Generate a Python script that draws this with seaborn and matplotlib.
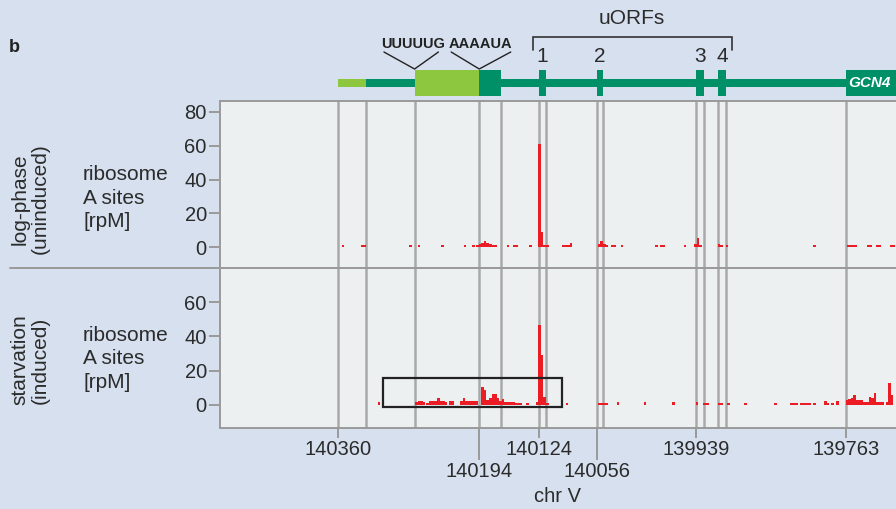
import numpy as np
import pandas as pd
import matplotlib
matplotlib.use("Agg")
import matplotlib.pyplot as plt
from matplotlib.patches import Rectangle
from matplotlib.lines import Line2D
import seaborn as sns

# Ribosome A-site density (rpM) over the GCN4 5' leader, chr V coordinates (minus strand)
log_pos = [140354, 140332, 140329, 140275, 140265, 140237, 140211, 140201,
           140196, 140193, 140190, 140187, 140184, 140181, 140178, 140175,
           140160, 140153, 140150, 140134,
           140123, 140120, 140117, 140114,
           140095, 140092, 140089, 140086,
           140053, 140050, 140047, 140044, 140038, 140035, 140026,
           139986, 139980, 139977, 139952,
           139940, 139937, 139934, 139912, 139909, 139903,
           139800, 139760, 139757, 139754, 139751,
           139737, 139734, 139726, 139723, 139710, 139707]
log_rpm = [1.5, 1.5, 1.5, 1.5, 1.5, 1.5, 1.5, 1.5,
           1.5, 2.0, 2.5, 3.5, 2.5, 2.0, 1.5, 1.5,
           1.5, 1.5, 1.5, 1.5,
           61.0, 9.0, 1.5, 1.5,
           1.5, 1.0, 1.5, 2.5,
           2.0, 3.5, 2.0, 1.5, 1.5, 1.5, 1.5,
           1.5, 1.5, 1.5, 1.5,
           2.0, 5.3, 1.5, 1.8, 1.5, 1.5,
           1.5, 1.5, 1.5, 1.5, 1.5,
           1.5, 1.5, 1.5, 1.5, 1.5, 1.5]

starv_pos = [140312, 140268, 140265, 140262, 140259, 140255, 140251, 140248,
             140245, 140242, 140239, 140236, 140233, 140228, 140225,
             140215, 140212, 140209, 140206, 140203, 140200, 140197,
             140190, 140187, 140184, 140181, 140178, 140175, 140172, 140169, 140166,
             140163, 140160, 140157, 140154, 140151, 140148, 140145, 140137,
             140126, 140123, 140120, 140117, 140114,
             140091, 140053, 140050, 140047, 140044, 140031, 139999, 139966,
             139938, 139929, 139926, 139912, 139909, 139901, 139881, 139846,
             139827, 139824, 139821, 139815, 139812, 139809, 139806, 139800,
             139787, 139784, 139779, 139773,
             139762, 139759, 139756, 139753, 139750, 139747, 139744, 139741,
             139738, 139735, 139732, 139729, 139726, 139723, 139720, 139715,
             139712, 139709]
starv_rpm = [1.6, 1.5, 2.0, 2.0, 1.5, 1.0, 2.0, 2.0,
             2.0, 3.9, 2.0, 2.0, 1.5, 2.0, 2.0,
             2.0, 4.0, 2.0, 2.0, 2.0, 2.0, 2.0,
             10.5, 8.5, 2.5, 4.0, 6.5, 6.5, 4.0, 2.0, 3.4,
             1.8, 1.8, 1.8, 1.8, 1.2, 1.2, 1.2, 1.2,
             1.5, 46.6, 29.0, 4.3, 1.2,
             1.2, 1.2, 1.2, 1.2, 1.2, 1.6, 1.6, 1.5,
             1.8, 1.0, 1.0, 1.0, 1.0, 1.0, 1.2, 1.2,
             1.0, 1.0, 1.0, 1.0, 1.0, 1.0, 1.0, 1.0,
             2.0, 1.0, 1.0, 2.0,
             2.7, 3.3, 4.1, 5.6, 2.9, 2.9, 2.7, 1.6,
             1.6, 4.7, 3.9, 6.8, 1.6, 1.6, 1.6, 1.6,
             12.9, 5.6]

# Axis ticks and annotated features
short_ticks = [140360, 140124, 139939, 139763]
long_ticks = [140194, 140056]
feature_edges = [140360, 140327, 140270, 140194, 140169, 140124, 140115,
                 140056, 140049, 139939, 139930, 139913, 139904, 139763]
uorfs = [(140124, 140115), (140056, 140049), (139939, 139930), (139913, 139904)]
uorf_names = ["1", "2", "3", "4"]
leader_start, tss = 140360, 140327
hairpin_light = (140270, 140194)
hairpin_dark = (140194, 140169)
gcn4_start = 139763
zoom_box = (140307, 140097, -1.5, 15.4)

BG = "#d6e0ee"
PANEL = "#ecf0f1"
GRID = "#a9a9a9"
RED = "#ec1c24"
DKGREEN = "#009068"
LTGREEN = "#8dc63f"
TXT = "#2b2b2b"

sns.set_theme(style="white")
plt.rcParams["font.family"] = ["Liberation Sans", "DejaVu Sans"]

W, H = 896, 509
fig = plt.figure(figsize=(W / 100, H / 100), dpi=100, facecolor=BG)

def fx(x):
    return x / W

def fy(y):
    return 1 - y / H

XL = (140498.7, 139704.2)
left, right = 220, 896
ax_top = fig.add_axes([fx(left), fy(268), fx(right - left), (268 - 101) / H])
ax_bot = fig.add_axes([fx(left), fy(428), fx(right - left), (428 - 268) / H], sharex=ax_top)
ax_trk = fig.add_axes([fx(left), fy(101), fx(right - left), 101 / H], sharex=ax_top)


def edges_for(pos):
    p = np.asarray(pos, dtype=float)
    return [float(v) for v in np.unique(np.concatenate([p - 1.5, p + 1.5]))]


for ax, pos, rpm, ylim, yt in [
    (ax_top, log_pos, log_rpm, (-12.4, 86.5), [0, 20, 40, 60, 80]),
    (ax_bot, starv_pos, starv_rpm, (-13.6, 79.9), [0, 20, 40, 60]),
]:
    ax.set_facecolor(PANEL)
    for xe in feature_edges:
        ax.axvline(xe, color=GRID, lw=1.8, zorder=0)
    track = pd.DataFrame({"pos": pos, "rpm": rpm})
    sns.histplot(data=track, x="pos", weights="rpm", bins=edges_for(pos), ax=ax,
                 color=RED, alpha=1, linewidth=0, edgecolor="none", zorder=2)
    ax.set_ylim(*ylim)
    ax.set_yticks(yt)
    ax.set_ylabel("")
    ax.set_xlabel("")
    ax.tick_params(axis="y", length=8, width=1.4, color="#9a9a9a", pad=1.5,
                   labelsize=14.5, labelcolor=TXT, left=True)
    ax.spines["right"].set_visible(False)
    for s in ["left", "top", "bottom"]:
        ax.spines[s].set_color("#9a9a9a")
        ax.spines[s].set_linewidth(1.4)

ax_top.set_xlim(*XL)
ax_top.tick_params(axis="x", bottom=False, labelbottom=False)

# bottom panel genomic axis: short and long ticks alternate labels
ax_bot.set_xticks(short_ticks)
ax_bot.set_xticklabels([str(t) for t in short_ticks])
ax_bot.set_xticks(long_ticks, minor=True)
ax_bot.set_xticklabels([str(t) for t in long_ticks], minor=True)
ax_bot.tick_params(axis="x", which="major", length=7, width=1.4, color="#9a9a9a",
                   pad=1.5, labelsize=14.5, labelcolor=TXT, bottom=True)
ax_bot.tick_params(axis="x", which="minor", length=23, width=1.4, color="#9a9a9a",
                   pad=1.5, labelsize=14.5, labelcolor=TXT, bottom=True)
fig.text(fx(558), fy(497), "chr V", ha="center", va="center", fontsize=14.5, color=TXT)

zx0, zx1, zy0, zy1 = zoom_box
ax_bot.add_patch(Rectangle((zx0, zy0), zx1 - zx0, zy1 - zy0, fill=False,
                           ec="#222222", lw=1.6, zorder=4))

# gene model track (y in pixel-like units, growing downward)
ax_trk.set_facecolor("none")
ax_trk.set_ylim(101, 0)
ax_trk.axis("off")
ax_trk.add_patch(Rectangle((leader_start, 79), tss - leader_start, 8,
                           color=LTGREEN, lw=0))
ax_trk.add_patch(Rectangle((tss, 79), XL[1] - tss, 8, color=DKGREEN, lw=0))
ax_trk.add_patch(Rectangle((hairpin_light[0], 70), hairpin_light[1] - hairpin_light[0], 26,
                           color=LTGREEN, lw=0))
ax_trk.add_patch(Rectangle((hairpin_dark[0], 70), hairpin_dark[1] - hairpin_dark[0], 26,
                           color=DKGREEN, lw=0))
for (a, b), name in zip(uorfs, uorf_names):
    ax_trk.add_patch(Rectangle((a, 70), b - a, 26, color=DKGREEN, lw=0))
    ax_trk.text((a + b) / 2, 56, name, ha="center", va="center", fontsize=15, color=TXT)
ax_trk.add_patch(Rectangle((gcn4_start, 70), XL[1] - gcn4_start, 26, color=DKGREEN, lw=0))
ax_trk.text(139735, 83, "GCN4", ha="center", va="center", fontsize=11,
            color="white", fontweight="bold", fontstyle="italic")

# uORF bracket
ax_trk.plot([140131, 140131, 139897, 139897], [50, 37, 37, 50], color="#333333",
            lw=1.2, solid_joinstyle="miter")
fig.text(fx(632), fy(19), "uORFs", ha="center", va="center", fontsize=15, color=TXT)

# hairpin sequence callouts
ax_trk.plot([140306, 140270, 140242], [52, 69, 52], color="#222222", lw=1.0)
ax_trk.plot([140227, 140194, 140157], [52, 69, 52], color="#222222", lw=1.0)
ax_trk.text(140272, 44, "UUUUUG", ha="center", va="center", fontsize=10.5,
            fontweight="bold", color="#222222")
ax_trk.text(140193, 44, "AAAAUA", ha="center", va="center", fontsize=10.5,
            fontweight="bold", color="#222222")

# panel letter and row labels
fig.text(fx(9), fy(47), "b", ha="left", va="center", fontsize=13,
         fontweight="bold", color="#222222")
fig.add_artist(Line2D([fx(10), 1], [fy(268), fy(268)], color="#9a9a9a", lw=1.4))
for yc, cond in [(199, "log-phase\n(uninduced)"), (360, "starvation\n(induced)")]:
    fig.text(fx(30), fy(yc), cond, rotation=90, ha="center", va="center",
             multialignment="center", fontsize=15, color=TXT, linespacing=1.08)
    fig.text(fx(83), fy(yc - 1), "ribosome\nA sites\n[rpM]", ha="left", va="center",
             fontsize=15, color=TXT, linespacing=1.32)

fig.savefig("out.png", dpi=100, facecolor=BG)
